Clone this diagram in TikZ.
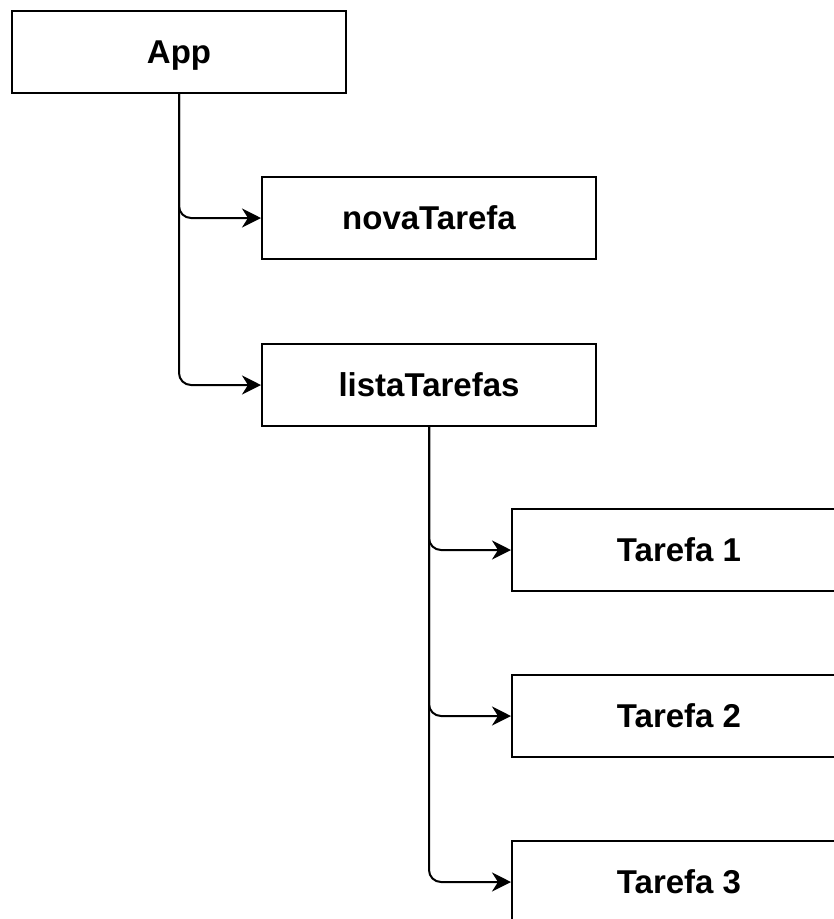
\documentclass[tikz,border=0pt]{standalone}
\usepackage{fontspec}
\setmainfont{Liberation Sans}
\usetikzlibrary{arrows.meta}
\begin{document}
\begin{tikzpicture}[x=1pt,y=-1pt,
  box/.style={draw=black, line width=2pt, fill=white, minimum width=334pt, minimum height=82pt,
    inner sep=0pt, text height=23.5pt, text depth=0pt, font=\fontsize{33}{38}\selectfont\bfseries},
  conn/.style={draw=black, line width=2pt, rounded corners=12pt,
    -{Stealth[length=19pt,width=19pt,inset=6pt]}}]
  \useasboundingbox (0,0) rectangle (834,919);
  \clip (0,0) rectangle (834,919);
  \node[box] (app)   at (179,52)  {App};
  \node[box] (nova)  at (429,218) {novaTarefa};
  \node[box] (lista) at (429,385) {listaTarefas};
  \node[box] (t1)    at (679,550) {Tarefa 1};
  \node[box] (t2)    at (679,716) {Tarefa 2};
  \node[box] (t3)    at (679,882) {Tarefa 3};
  \draw[conn] (app.south) |- (nova.west);
  \draw[conn] (app.south) |- (lista.west);
  \draw[conn] (lista.south) |- (t1.west);
  \draw[conn] (lista.south) |- (t2.west);
  \draw[conn] (lista.south) |- (t3.west);
\end{tikzpicture}
\end{document}
